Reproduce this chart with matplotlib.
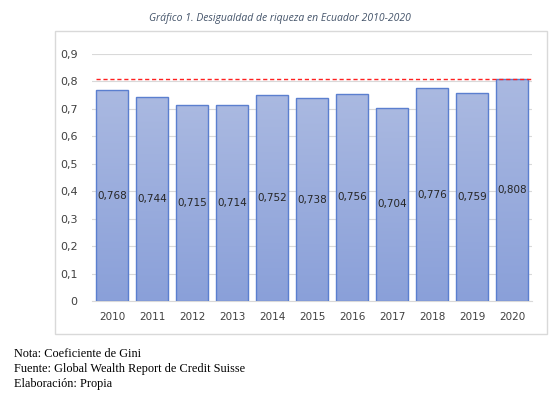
import numpy as np
import matplotlib
matplotlib.use('Agg')
import matplotlib.pyplot as plt
from matplotlib.patches import Rectangle

# Data
years = ['2010', '2011', '2012', '2013', '2014', '2015', '2016', '2017', '2018', '2019', '2020']
gini = [0.768, 0.744, 0.715, 0.714, 0.752, 0.738, 0.756, 0.704, 0.776, 0.759, 0.808]
y_ticks = [0, 0.1, 0.2, 0.3, 0.4, 0.5, 0.6, 0.7, 0.8, 0.9]
title = 'Gráfico 1. Desigualdad de riqueza en Ecuador 2010-2020'
notes = ['Nota: Coeficiente de Gini',
         'Fuente: Global Wealth Report de Credit Suisse',
         'Elaboración: Propia']

fig = plt.figure(figsize=(5.59, 3.94), dpi=100)
fig.patch.set_facecolor('white')

# outer chart frame
frame = Rectangle((55 / 559, 1 - 334 / 394), (547 - 55) / 559, (334 - 31) / 394,
                  transform=fig.transFigure, fill=False, edgecolor='#d9d9d9', lw=1.0)
fig.patches.append(frame)

fig.text(0.5, 1 - 18 / 394, title, ha='center', va='center', fontsize=7.5,
         style='italic', color='#44546a', family='Open Sans')

ax = fig.add_axes([92 / 559, 1 - 301 / 394, 440 / 559, 247 / 394])
x = np.arange(len(years))
bars = ax.bar(x, gini, width=0.8, color='none', edgecolor='#5b7fcf', lw=1.0, zorder=3)

# vertical gradient fill in each bar
grad = np.linspace(0, 1, 256).reshape(-1, 1)
cmap = matplotlib.colors.LinearSegmentedColormap.from_list('g', ['#8aa0d9', '#aab9e1'])
for b in bars:
    bx = b.get_x()
    im = ax.imshow(grad, extent=[bx, bx + b.get_width(), 0, b.get_height()],
                   origin='lower', aspect='auto', cmap=cmap, zorder=2)
    im.set_clip_path(b)

for xi, v in zip(x, gini):
    ax.text(xi, v / 2, f'{v:.3f}'.replace('.', ','), ha='center', va='center',
            fontsize=7.5, color='#262626', zorder=4)

# red dashed line at max
ax.plot([-0.4, 10.52], [max(gini), max(gini)], ls=(0, (3, 2)), color='#ff2020',
        lw=1.0, zorder=4, clip_on=False)

ax.set_xlim(-0.5, 10.5)
ax.set_ylim(0, 0.9)
ax.set_yticks(y_ticks)
ax.set_yticklabels(['0'] + [f'{t:.1f}'.replace('.', ',') for t in y_ticks[1:]])
ax.set_xticks(x)
ax.set_xticklabels(years)
ax.tick_params(length=0, labelsize=7.5, colors='#404040', pad=8)
ax.tick_params(axis='y', labelsize=8, pad=10.5)
ax.grid(axis='y', color='#d9d9d9', lw=0.8, zorder=0)
for s in ax.spines.values():
    s.set_visible(False)
ax.spines['bottom'].set_visible(True)
ax.spines['bottom'].set_color('#d9d9d9')

for i, line in enumerate(notes):
    fig.text(14 / 559, 1 - (354 + i * 15) / 394, line, ha='left', va='center',
             fontsize=8.8, family='Liberation Serif', color='black')

fig.savefig('out.png', dpi=100)
